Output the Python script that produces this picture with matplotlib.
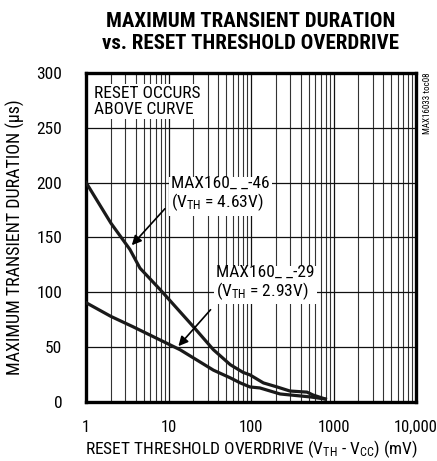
import matplotlib
import matplotlib.pyplot as plt
from matplotlib.ticker import FixedLocator, NullFormatter

matplotlib.use("Agg")

plt.rcParams["font.family"] = ["Roboto Condensed", "DejaVu Sans"]
plt.rcParams["mathtext.fontset"] = "custom"
plt.rcParams["mathtext.rm"] = "Roboto Condensed"
plt.rcParams["mathtext.default"] = "rm"

# MAX160__-46 (VTH = 4.63V)
overdrive_46 = [1, 2, 3.4, 4.5, 8, 20, 35, 56, 80, 97, 141, 207, 296, 476, 563, 795]
duration_46 = [200, 163, 139, 122, 102, 68.6, 47.6, 34, 27, 24.7, 17.4, 13.7, 10, 9, 6.4, 2.7]

# MAX160__-29 (VTH = 2.93V)
overdrive_29 = [1, 2, 3.7, 13.8, 35, 56, 74, 97, 128, 225, 525, 795]
duration_29 = [90.5, 78, 68.6, 47.6, 29, 22, 17.4, 13.7, 12.8, 7.3, 4.6, 2.7]

x_ticks = [1, 10, 100, 1000, 10000]
x_tick_labels = ["1", "10", "100", "1000", "10,000"]
y_ticks = [0, 50, 100, 150, 200, 250, 300]

fig = plt.figure(figsize=(4.37, 4.61), dpi=100)
ax = fig.add_axes([0.197, 0.128, 0.755, 0.714])

ax.set_xscale("log")
ax.set_xlim(1, 10000)
ax.set_ylim(0, 300)

minor = [m * 10 ** d for d in range(4) for m in range(2, 10)]
ax.xaxis.set_major_locator(FixedLocator(x_ticks))
ax.xaxis.set_minor_locator(FixedLocator(minor))
ax.xaxis.set_minor_formatter(NullFormatter())
ax.set_xticklabels(x_tick_labels)
ax.set_yticks(y_ticks)

ax.grid(True, which="major", color="#111111", linewidth=0.9)
ax.grid(True, which="minor", axis="x", color="#333333", linewidth=0.8)
ax.tick_params(which="both", length=0)
ax.tick_params(axis="x", pad=13, labelsize=12)
ax.tick_params(axis="y", pad=17, labelsize=12.5)

for spine in ax.spines.values():
    spine.set_linewidth(2.4)

ax.plot(overdrive_46, duration_46, color="#1a1a1a", linewidth=2.3, zorder=3)
ax.plot(overdrive_29, duration_29, color="#1a1a1a", linewidth=2.3, zorder=3)

box = dict(facecolor="white", edgecolor="none", pad=1.5)
ax.text(1.25, 288, "RESET OCCURS\nABOVE CURVE", fontsize=12.5, va="top",
        ha="left", linespacing=1.05, bbox=box, zorder=4)
ax.text(10.8, 206, "MAX160_ _-46\n(V$_{TH}$ = 4.63V)", fontsize=12.5,
        va="top", ha="left", linespacing=1.05, bbox=box, zorder=4)
ax.text(38, 125, "MAX160_ _-29\n(V$_{TH}$ = 2.93V)", fontsize=12.5,
        va="top", ha="left", linespacing=1.05, bbox=box, zorder=4)

arrow = dict(arrowstyle="-|>", color="black", lw=1.2, mutation_scale=14)
ax.annotate("", xy=(3.4, 141), xytext=(9.5, 178), arrowprops=arrow, zorder=5)
ax.annotate("", xy=(12.5, 49), xytext=(34, 86), arrowprops=arrow, zorder=5)

ax.set_xlabel("RESET THRESHOLD OVERDRIVE (V$_{TH}$ - V$_{CC}$) (mV)",
              fontsize=12.5, labelpad=2)
ax.set_ylabel("MAXIMUM TRANSIENT DURATION (μs)", fontsize=13, labelpad=8)

fig.text(0.574, 0.975, "MAXIMUM TRANSIENT DURATION\nvs. RESET THRESHOLD OVERDRIVE",
         ha="center", va="top", fontsize=15, fontweight="heavy", linespacing=1.2)
fig.text(0.978, 0.842, "MAX16033 toc08", rotation=90, ha="center", va="top",
         fontsize=6.5)

fig.savefig("out.png", dpi=100)
